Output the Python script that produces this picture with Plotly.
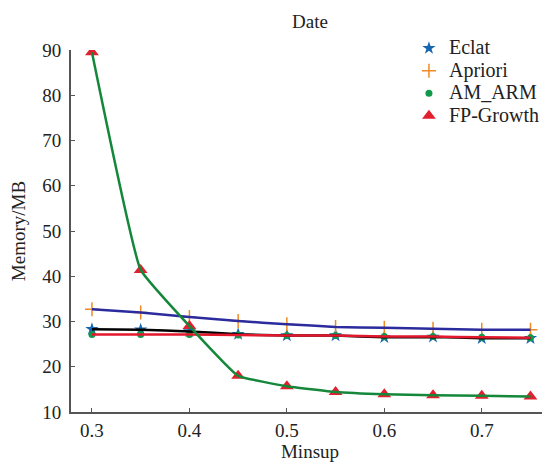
import plotly.graph_objects as go

minsup = [0.3, 0.35, 0.4, 0.45, 0.5, 0.55, 0.6, 0.65, 0.7, 0.75]
eclat = [28.3, 28.2, 27.8, 27.2, 26.9, 26.9, 26.5, 26.6, 26.3, 26.3]
apriori = [32.7, 32.0, 31.0, 30.1, 29.4, 28.8, 28.6, 28.4, 28.2, 28.2]
am_arm = [27.1, 27.1, 27.1, 27.0, 26.9, 26.9, 26.7, 26.7, 26.5, 26.4]
fp_growth = [89.5, 41.4, 29.0, 18.0, 15.7, 14.4, 13.9, 13.7, 13.6, 13.4]
x_ticks = [0.3, 0.4, 0.5, 0.6, 0.7]
y_ticks = [10, 20, 30, 40, 50, 60, 70, 80, 90]

FONT = "Liberation Serif"
series = [
    ("Eclat", eclat, "#000000", dict(symbol="star", size=10, color="#1565b0")),
    ("Apriori", apriori, "#2b2b9e", dict(symbol="cross-thin", size=10, color="#f08a24",
                                          line=dict(width=1.5, color="#f08a24"))),
    ("AM_ARM", am_arm, "#e3182d", dict(symbol="circle", size=7, color="#12984a")),
    ("FP-Growth", fp_growth, "#14873a", dict(symbol="triangle-up", size=12, color="#e0202e")),
]

fig = go.Figure()
for name, vals, lc, mk in series:
    fig.add_trace(go.Scatter(x=minsup, y=vals, mode="markers",
                             name=f'<span style="font-size:20px">{name}</span>', marker=mk))
for name, vals, lc, mk in series:
    fig.add_trace(go.Scatter(x=minsup, y=vals, mode="lines", showlegend=False,
                             line=dict(color=lc, width=2.5, shape="spline", smoothing=0.3),
                             hoverinfo="skip"))

fig.update_layout(
    width=542, height=456,
    margin=dict(l=63, r=1, t=42, b=52),
    paper_bgcolor="white", plot_bgcolor="white",
    font=dict(family=FONT, size=18, color="#222222"),
    title=dict(text="Date", x=0.5, xref="paper", y=0.971, yanchor="middle",
               font=dict(family=FONT, size=19, color="#222222")),
    legend=dict(x=0.707, y=1.05, xanchor="left", yanchor="top",
                bgcolor="rgba(0,0,0,0)", font=dict(family=FONT, size=15, color="#222222"),
                itemwidth=30),
    showlegend=True,
)
fig.update_xaxes(range=[0.2785, 0.769], tickvals=x_ticks, ticktext=[f"{v:.1f}" for v in x_ticks],
                 showgrid=False, zeroline=False, showline=True, linecolor="#555555", linewidth=2,
                 ticks="inside", ticklen=4, tickcolor="#555555", tickwidth=1,
                 title=dict(text="Minsup", standoff=0, font=dict(family=FONT, size=19)),
                 tickfont=dict(family=FONT, size=19))
fig.update_yaxes(range=[10, 90], tickvals=y_ticks,
                 showgrid=False, zeroline=False, showline=True, linecolor="#555555", linewidth=2,
                 ticks="inside", ticklen=4, tickcolor="#555555", tickwidth=1,
                 ticklabelstandoff=4,
                 title=dict(text="Memory/MB", standoff=19, font=dict(family=FONT, size=19)),
                 tickfont=dict(family=FONT, size=19))

fig.write_html("out.html")
